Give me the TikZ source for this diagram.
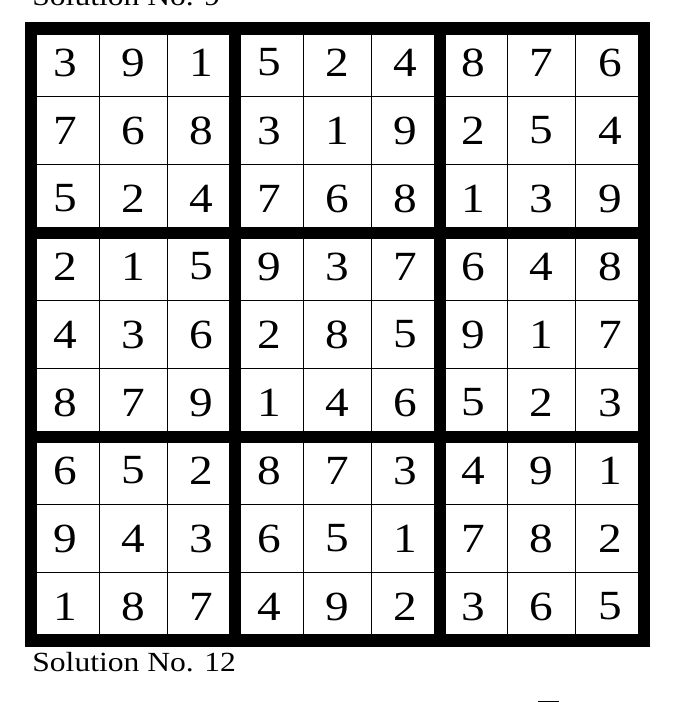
\documentclass[tikz,border=0pt]{standalone}
\usepackage{fontspec}
\setmainfont{Liberation Serif}
\usetikzlibrary{calc}
\newcommand{\widetext}[1]{\scalebox{1.14}[1]{#1}}

\begin{document}
\begin{tikzpicture}[x=0.5pt, y=-0.5pt,
    digit/.style={inner sep=0pt, font=\fontsize{20.75}{24}\selectfont},
    title/.style={inner sep=0pt, anchor=base west, font=\fontsize{13.85}{16}\selectfont},
    thinline/.style={line width=0.55pt},
    blockline/.style={line width=6pt},
    border/.style={line width=6.3pt}]
    \useasboundingbox (0,0) rectangle (674,702);
    \node[title] (top) at (32,5) {\widetext{Solution No. 9}};
    % thin cell lines
    \foreach \k in {1,2,4,5,7,8} {
        \draw[thinline] (31+68.1*\k,28.5) to (31+68.1*\k,640.5);
        \draw[thinline] (31,28.5+68*\k) to (643.9,28.5+68*\k);
    }
    % block lines
    \foreach \k in {3,6} {
        \draw[blockline] (31+68.1*\k,28.5) to (31+68.1*\k,640.5);
        \draw[blockline] (31,28.5+68*\k) to (643.9,28.5+68*\k);
    }
    \draw[border] (31,28.5) rectangle (643.9,640.5);
    % digits
    \foreach \row [count=\j from 0] in {{3,9,1,5,2,4,8,7,6},{7,6,8,3,1,9,2,5,4},{5,2,4,7,6,8,1,3,9},
        {2,1,5,9,3,7,6,4,8},{4,3,6,2,8,5,9,1,7},{8,7,9,1,4,6,5,2,3},
        {6,5,2,8,7,3,4,9,1},{9,4,3,6,5,1,7,8,2},{1,8,7,4,9,2,3,6,5}} {
        \foreach \d [count=\i from 0] in \row {
            \node[digit] (c-\i-\j) at (65.05+68.1*\i,62.5+68*\j) {\widetext{\d}};
        }
    }
    \node[title] (bottom) at (32,671.7) {\widetext{Solution No. 12}};
    \fill (538,700.5) rectangle (559,702);
\end{tikzpicture}
\end{document}
